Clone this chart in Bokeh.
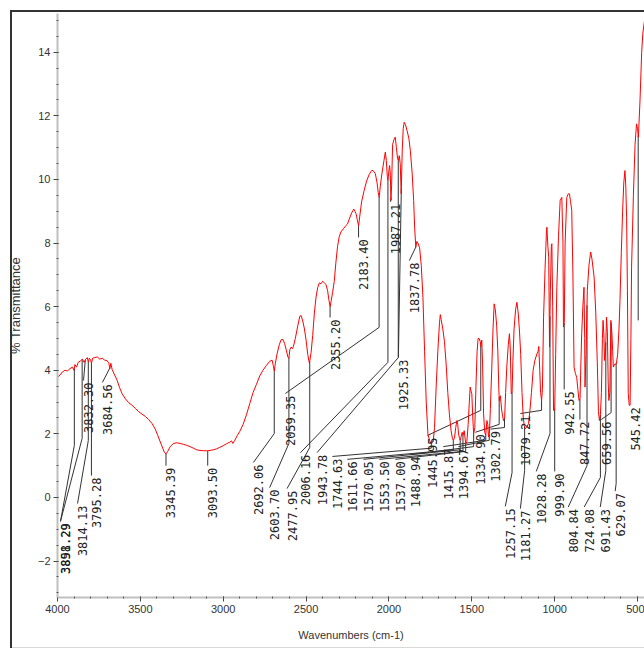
import numpy as np
from bokeh.plotting import figure
from bokeh.models import Range1d, FixedTicker
from bokeh.core.properties import value
from bokeh.embed import file_html
from bokeh.resources import INLINE

# ---- spectrum (wavenumber cm-1, % transmittance) ----
wavenumbers = [4000, 3985, 3970, 3955, 3940, 3925, 3910, 3900, 3895, 3885, 3875, 3860, 3850, 3840,
               3830, 3820, 3814, 3808, 3800, 3795, 3788, 3775, 3760, 3745, 3730, 3715, 3700, 3690,
               3684, 3678, 3670, 3655, 3640, 3625, 3610, 3590, 3570, 3550, 3530, 3510, 3490, 3470,
               3450, 3430, 3410, 3395, 3380, 3365, 3355, 3345, 3335, 3320, 3300, 3280, 3260, 3240,
               3220, 3200, 3180, 3160, 3140, 3120, 3100, 3093, 3080, 3060, 3040, 3020, 3000, 2980,
               2960, 2950, 2942, 2930, 2915, 2900, 2880, 2860, 2840, 2820, 2800, 2780, 2760, 2740,
               2720, 2705, 2698, 2692, 2686, 2675, 2662, 2651, 2640, 2630, 2620, 2610, 2604, 2598,
               2590, 2582, 2576, 2565, 2550, 2538, 2530, 2520, 2510, 2500, 2490, 2480, 2470, 2460,
               2450, 2440, 2430, 2420, 2410, 2400, 2390, 2380, 2370, 2362, 2355, 2348, 2340, 2330,
               2320, 2310, 2300, 2290, 2275, 2260, 2250, 2240, 2225, 2212, 2205, 2197, 2190, 2183,
               2176, 2165, 2150, 2135, 2120, 2105, 2095, 2082, 2072, 2065, 2059, 2052, 2042, 2030,
               2022, 2016, 2010, 2006, 2000, 1996, 1992, 1988, 1984, 1978, 1970, 1962, 1955, 1948,
               1943, 1938, 1932, 1926, 1920, 1914, 1908, 1900, 1891, 1880, 1871, 1860, 1851, 1845,
               1838, 1832, 1825, 1815, 1805, 1795, 1785, 1775, 1765, 1755, 1745, 1740, 1733, 1725,
               1715, 1705, 1695, 1690, 1685, 1675, 1665, 1655, 1645, 1635, 1625, 1617, 1611, 1604,
               1597, 1590, 1585, 1580, 1574, 1570, 1565, 1558, 1553, 1546, 1537, 1530, 1522, 1515,
               1510, 1505, 1500, 1495, 1489, 1482, 1475, 1468, 1462, 1456, 1449, 1445, 1440, 1435,
               1429, 1422, 1416, 1409, 1404, 1399, 1394, 1388, 1380, 1372, 1365, 1358, 1350, 1343,
               1337, 1334, 1328, 1320, 1315, 1309, 1302, 1296, 1289, 1280, 1273, 1268, 1262, 1257,
               1252, 1245, 1236, 1228, 1220, 1212, 1205, 1197, 1190, 1183, 1178, 1170, 1158, 1150,
               1140, 1130, 1120, 1107, 1100, 1096, 1090, 1085, 1079, 1074, 1067, 1058, 1050, 1047,
               1041, 1036, 1031, 1026, 1020, 1017, 1012, 1007, 1000, 994, 987, 977, 967, 957,
               950, 947, 942, 937, 927, 918, 911, 904, 897, 890, 883, 875, 867, 860,
               853, 847, 842, 837, 830, 823, 819, 817, 811, 803, 793, 783, 775, 762,
               752, 742, 736, 730, 724, 718, 712, 708, 703, 699, 693, 687, 682, 677,
               673, 667, 661, 655, 650, 646, 636, 628, 620, 612, 606, 598, 590, 583,
               576, 571, 566, 561, 556, 550, 545, 540, 536, 525, 515, 506, 500, 495,
               490, 485, 475, 468, 458]
transmittance = [3.78, 3.85, 3.95, 4.0, 3.98, 4.05, 4.1, 4.0, 4.18, 4.1, 4.25, 4.3, 4.35, 4.25,
                 4.35, 4.4, 4.25, 4.38, 4.32, 4.22, 4.38, 4.4, 4.42, 4.35, 4.38, 4.32, 4.3, 4.22,
                 4.05, 4.22, 4.02, 3.85, 3.68, 3.45, 3.26, 3.1, 2.98, 2.9, 2.8, 2.7, 2.62, 2.55,
                 2.45, 2.33, 2.15, 1.95, 1.75, 1.55, 1.42, 1.37, 1.45, 1.6, 1.7, 1.72, 1.7, 1.67,
                 1.64, 1.6, 1.55, 1.5, 1.48, 1.47, 1.47, 1.47, 1.48, 1.5, 1.53, 1.58, 1.63, 1.69,
                 1.74, 1.78, 1.7, 1.8, 1.95, 2.08, 2.3, 2.6, 2.95, 3.3, 3.55, 3.82, 4.0, 4.15,
                 4.28, 4.32, 4.15, 3.97, 4.2, 4.52, 4.8, 4.96, 4.97, 4.85, 4.65, 4.42, 4.38, 4.65,
                 4.73, 4.68, 4.76, 5.0, 5.4, 5.7, 5.72, 5.55, 5.3, 4.95, 4.5, 4.22, 4.55, 5.1,
                 5.8, 6.3, 6.6, 6.75, 6.72, 6.8, 6.75, 6.7, 6.5, 6.2, 6.0, 6.2, 6.45, 6.8,
                 7.4, 7.9, 8.2, 8.35, 8.45, 8.55, 8.6, 8.75, 8.95, 9.07, 9.0, 8.9, 8.7, 8.55,
                 8.85, 9.3, 9.65, 9.95, 10.15, 10.28, 10.28, 10.18, 9.9, 9.6, 9.44, 9.8, 10.2, 10.6,
                 10.86, 10.6, 10.1, 9.97, 10.3, 10.44, 10.2, 9.34, 9.8, 11.1, 11.25, 11.33, 11.0, 10.65,
                 10.6, 10.75, 10.5, 9.55, 10.9, 11.6, 11.8, 11.72, 11.54, 11.3, 10.91, 10.2, 9.34, 8.5,
                 7.87, 8.05, 8.0, 7.85, 7.3, 6.3, 4.6, 3.0, 2.0, 1.79, 1.69, 1.75, 1.75, 2.2,
                 3.5, 4.6, 5.5, 5.75, 5.6, 5.3, 4.9, 4.2, 3.3, 2.6, 2.1, 1.85, 1.79, 1.9,
                 2.2, 2.42, 2.3, 2.0, 1.85, 1.79, 1.9, 2.05, 1.95, 2.1, 1.69, 1.75, 2.3, 3.0,
                 3.47, 3.35, 3.26, 2.6, 2.0, 2.2, 3.5, 4.6, 5.0, 5.0, 4.9, 4.75, 4.95, 4.2,
                 2.63, 2.05, 1.95, 2.42, 2.3, 1.9, 2.0, 2.8, 4.0, 5.3, 6.09, 5.9, 5.4, 4.6,
                 3.4, 3.05, 3.2, 2.75, 2.6, 2.42, 2.5, 3.3, 4.1, 4.8, 5.15, 4.7, 3.26, 3.3,
                 4.3, 5.3, 5.9, 6.14, 5.8, 5.2, 4.5, 3.3, 2.53, 2.25, 2.16, 2.2, 2.32, 2.7,
                 3.3, 4.0, 4.3, 4.52, 4.6, 4.75, 4.0, 3.3, 3.05, 3.4, 5.67, 7.2, 8.3, 8.5,
                 7.9, 7.56, 4.73, 6.5, 7.9, 7.98, 6.0, 2.74, 2.75, 4.5, 6.61, 8.2, 9.34, 9.44,
                 8.0, 5.36, 5.5, 8.0, 9.44, 9.55, 9.55, 9.3, 9.03, 7.0, 4.1, 3.9, 3.78, 3.4,
                 3.05, 3.1, 4.2, 5.15, 6.0, 6.61, 5.0, 3.47, 4.5, 6.51, 7.3, 7.72, 7.5, 6.93,
                 5.8, 4.1, 2.7, 2.42, 2.6, 3.3, 5.0, 5.57, 5.1, 4.31, 4.6, 5.67, 5.2, 3.6,
                 3.05, 3.3, 5.57, 5.2, 4.6, 4.1, 4.2, 4.2, 4.5, 5.3, 6.19, 7.7, 9.0, 9.9,
                 10.28, 9.8, 8.81, 6.5, 3.26, 2.9, 2.9, 5.0, 7.24, 9.5, 11.1, 11.75, 11.6, 11.33,
                 11.9, 12.5, 14.0, 14.6, 15.0]

# ---- peak labels ----
peak_labels = ["3898.29", "3851.29", "3832.30", "3814.13", "3795.28", "3684.56", "3345.39", "3093.50",
               "2692.06", "2603.70", "2477.95", "2059.35", "2006.16", "1943.78", "2355.20", "2183.40",
               "1987.21", "1925.33", "1837.78", "1744.63", "1611.66", "1570.05", "1553.50", "1537.00",
               "1488.94", "1445.95", "1415.87", "1394.67", "1334.90", "1302.79", "1257.15", "1181.27",
               "1079.21", "1028.28", "999.90", "942.55", "847.72", "804.84", "724.08", "691.43",
               "659.56", "629.07", "545.42"]
peak_wn = [float(s) for s in peak_labels]

# label layout (leader bend level, label anchor), in data units
bend_T = [1.64, 1.86, None, 1.79, None, None, None, None,
          2.01, 1.70, 1.57, 5.35, 4.25, 4.40, None, None,
          None, None, None, 1.55, 1.50, 1.50, 1.45, 1.45,
          1.60, 2.74, 1.80, 1.80, 2.30, 2.20, 0.78, 0.85,
          2.74, 2.01, None, None, None, 1.00, 0.63, 0.85,
          2.67, 0.44, None]
label_wn = [3982, 3982, 3843, 3879, None, 3729, None, None,
            2818, 2720, 2615, 2625, 2534, 2434, None, None,
            1991, 1943, 1877, 2341, 2251, 2154, 2058, 1961,
            1871, 1768, 1672, 1581, 1479, 1388, 1298, 1207,
            1207, 1111, None, None, None, 918, 822, 725,
            719, 635, None]
label_T = [-0.75, -0.75, 3.68, -0.19, 0.69, 3.62, 1.0, 1.0,
           1.10, 0.31, 0.28, 3.27, 1.41, 1.41, 5.66, 8.18,
           9.30, 4.40, 7.45, 1.29, 1.20, 1.20, 1.20, 1.20,
           1.35, 1.95, 1.60, 1.60, 2.05, 2.15, -0.28, -0.35,
           2.64, 0.82, 0.82, 3.40, 2.45, -0.30, -0.30, -0.30,
           2.45, 0.20, 2.90]
# an extra leader whose label lies beyond the right edge
extra_peak_wn = 496
extra_end_T = 5.57

wn_arr = np.array(wavenumbers, dtype=float)
t_arr = np.array(transmittance, dtype=float)
order = np.argsort(wn_arr)


def curve_at(w):
    return float(np.interp(w, wn_arr[order], t_arr[order]))


lead_xs, lead_ys, txt_x, txt_y = [], [], [], []
for w, b, lw, lt in zip(peak_wn, bend_T, label_wn, label_T):
    yc = curve_at(w)
    ex = w if lw is None else lw
    if b is None:
        xs, ys = [w, ex], [yc, lt]
    else:
        xs, ys = [w, w, ex], [yc, b, lt]
    lead_xs.append(xs)
    lead_ys.append(ys)
    txt_x.append(ex)
    txt_y.append(lt)
lead_xs.append([extra_peak_wn, extra_peak_wn])
lead_ys.append([curve_at(extra_peak_wn), extra_end_T])

p = figure(width=644, height=651, x_range=Range1d(4000, 458), y_range=Range1d(-3.145, 15.22),
           output_backend="svg", toolbar_location=None,
           min_border_left=57, min_border_right=0, min_border_top=13, min_border_bottom=54)
p.outline_line_color = None
p.xgrid.visible = False
p.ygrid.visible = False
p.background_fill_color = None
p.border_fill_color = None
# outer frame of the page: dark left and top edges, faint bottom edge
p.styles = {
    "background-color": "white",
    "background-image": "linear-gradient(#333,#333), linear-gradient(#333,#333), linear-gradient(#d8d8d8,#d8d8d8)",
    "background-size": "2px 638px, 640px 2px, 640px 1px",
    "background-position": "10px 10px, 10px 10px, 10px 647px",
    "background-repeat": "no-repeat",
}

p.multi_line(lead_xs, lead_ys, line_color="#333333", line_width=1)
p.line(wavenumbers, transmittance, line_color="red", line_width=1)
p.text(x=txt_x, y=txt_y, text=peak_labels, angle=np.pi / 2, text_align="right",
       text_baseline="middle", x_offset=5, y_offset=2,
       text_font=value("DejaVu Sans Mono"), text_font_size="12px", text_color="#222222")

tick_font = "Liberation Sans"
p.xaxis.ticker = FixedTicker(ticks=[4000, 3500, 3000, 2500, 2000, 1500, 1000, 500],
                             minor_ticks=list(range(4000, 400, -100)))
p.yaxis.ticker = FixedTicker(ticks=[-2, 0, 2, 4, 6, 8, 10, 12, 14],
                             minor_ticks=[v / 2 for v in range(-6, 31)])
for ax in (p.xaxis[0], p.yaxis[0]):
    ax.axis_line_color = "#c0c0c0"
    ax.axis_line_width = 2
    ax.major_tick_line_color = "#444444"
    ax.minor_tick_line_color = "#555555"
    ax.major_tick_out = 4
    ax.major_tick_in = 1
    ax.minor_tick_out = 1
    ax.minor_tick_in = 1
    ax.major_label_text_font = tick_font
    ax.major_label_text_font_size = "11px"
    ax.major_label_text_color = "#333333"
    ax.axis_label_text_font_style = "normal"
    ax.axis_label_text_color = "#333333"

p.xaxis.axis_label = "Wavenumbers (cm-1)"
p.xaxis.axis_label_text_font = tick_font
p.xaxis.axis_label_text_font_size = "11px"
p.xaxis.major_label_standoff = 3
p.xaxis.axis_label_standoff = 13

p.yaxis.axis_label = "% Transmittance"
p.yaxis.axis_label_text_font = "Liberation Sans"
p.yaxis.axis_label_text_font_size = "13px"
p.yaxis.major_label_standoff = 3
p.yaxis.axis_label_standoff = 12

open("out.html", "w").write(file_html(p, INLINE))
